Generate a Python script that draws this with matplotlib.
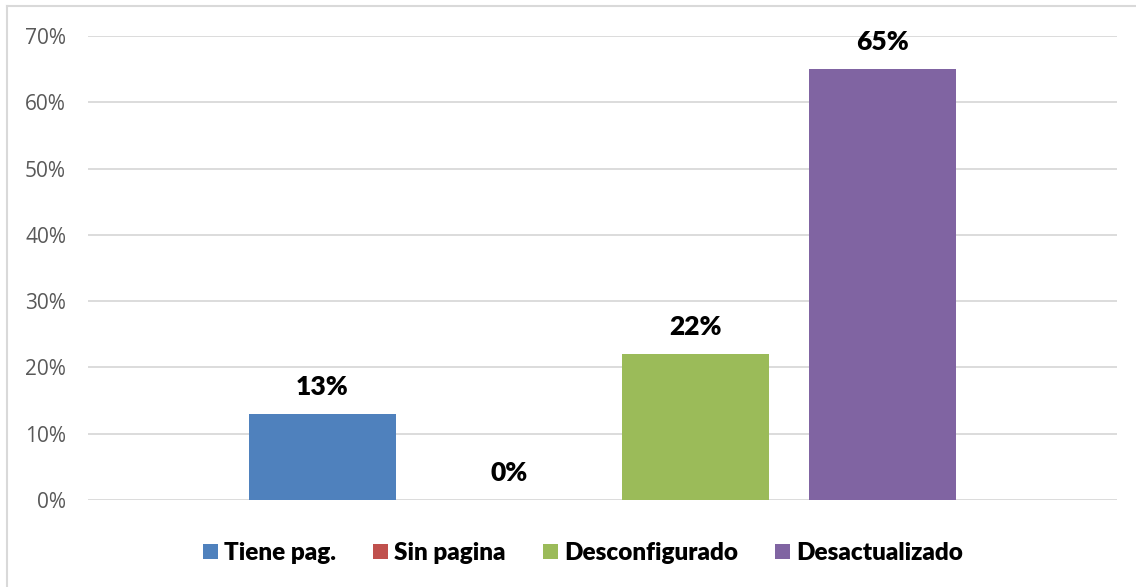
import matplotlib
matplotlib.use("Agg")
import matplotlib.pyplot as plt
from matplotlib.patches import Patch
from matplotlib.lines import Line2D

series = ["Tiene pag.", "Sin pagina", "Desconfigurado", "Desactualizado"]
values = [0.13, 0.00, 0.22, 0.65]
colors = ["#4F81BD", "#C0504D", "#9BBB59", "#8064A2"]
yticks = [0.0, 0.1, 0.2, 0.3, 0.4, 0.5, 0.6, 0.7]
ytick_labels = ["0%", "10%", "20%", "30%", "40%", "50%", "60%", "70%"]

W, H = 1136, 587
fig = plt.figure(figsize=(W / 100, H / 100), dpi=100)
ax = fig.add_axes([88 / W, 1 - 500 / H, (1117 - 88) / W, (500 - 36) / H])

step = 0.1815
width = 0.1429
for i, (s, v, c) in enumerate(zip(series, values, colors)):
    x = (i - 1.5) * step
    ax.bar(x, v, width=width, color=c, label=s, zorder=3)
    ax.annotate(f"{v * 100:.0f}%", xy=(x, v), xytext=(0, 19), textcoords="offset pixels",
                ha="center", va="baseline", fontsize=19, fontweight="heavy",
                family="Lato", color="black", zorder=4)

ax.set_xlim(-0.5, 0.5)
ax.set_ylim(0, 0.7)
ax.set_yticks(yticks)
ax.set_yticklabels(ytick_labels, family="Open Sans", fontsize=15, color="#595959")
ax.set_xticks([])
ax.tick_params(axis="y", length=0, pad=15.8)
ax.grid(axis="y", color="#D9D9D9", linewidth=1.3, zorder=0)
for sp in ax.spines.values():
    sp.set_visible(False)

handles = [Patch(facecolor=c, label=s) for s, c in zip(series, colors)]
fig.legend(handles=handles, loc="center", bbox_to_anchor=(583 / W, 1 - 553 / H), ncol=4,
           frameon=False, prop={"family": "Lato", "weight": "heavy", "size": 17.5},
           handlelength=0.6, handleheight=0.6, handletextpad=0.25, columnspacing=1.55)

# outer chart border (left and top edges visible)
fig.add_artist(Line2D([7 / W, 7 / W], [0, 1 - 6 / H], transform=fig.transFigure,
                      color="#D9D9D9", linewidth=1.5))
fig.add_artist(Line2D([7 / W, 1], [1 - 6 / H, 1 - 6 / H], transform=fig.transFigure,
                      color="#D9D9D9", linewidth=1.5))

fig.savefig("out.png", dpi=100, facecolor="white")
